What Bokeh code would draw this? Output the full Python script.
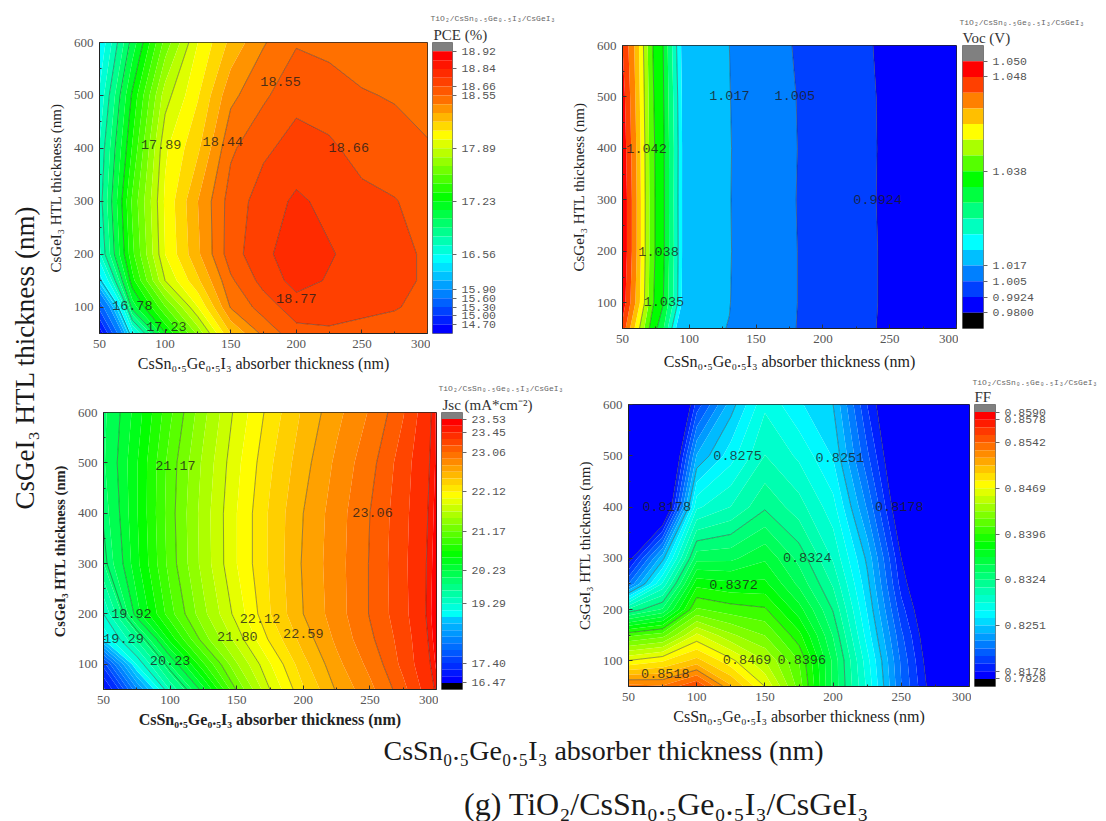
import numpy as np
from bokeh.embed import file_html
from bokeh.resources import INLINE
from bokeh.plotting import figure
from bokeh.layouts import row, column
from bokeh.models import FixedTicker, LinearAxis, Range1d, Title, ColumnDataSource, Spacer
from bokeh.core.properties import value

# ---------- shared text ----------
X_TITLE = "CsSn₀.₅Ge₀.₅I₃ absorber thickness (nm)"
Y_TITLE = "CsGeI₃ HTL thickness (nm)"
STACK = "TiO₂/CsSn₀.₅Ge₀.₅I₃/CsGeI₃"
CAPTION = "(g) TiO₂/CsSn₀.₅Ge₀.₅I₃/CsGeI₃"

x_ticks = [50, 100, 150, 200, 250, 300]
x_minor = [75, 125, 175, 225, 275]
y_ticks = [100, 200, 300, 400, 500, 600]
y_minor = [50, 150, 250, 350, 450, 550]

# ---------- PCE ----------
pce_x = [50, 75, 100, 125, 150, 175, 200, 225, 250, 275, 300]
pce_y = [50, 100, 150, 200, 300, 400, 500, 600]
pce_z = [
    [14.50, 16.50, 17.22, 17.70, 18.22, 18.47, 18.62, 18.64, 18.62, 18.60, 18.58],
    [15.40, 17.05, 17.55, 18.00, 18.45, 18.60, 18.72, 18.71, 18.69, 18.67, 18.62],
    [16.30, 17.30, 17.89, 18.20, 18.53, 18.70, 18.81, 18.76, 18.72, 18.70, 18.64],
    [16.65, 17.42, 18.00, 18.31, 18.61, 18.74, 18.84, 18.78, 18.73, 18.70, 18.64],
    [16.72, 17.47, 18.02, 18.33, 18.60, 18.71, 18.79, 18.74, 18.69, 18.665, 18.62],
    [16.68, 17.35, 17.98, 18.20, 18.53, 18.64, 18.70, 18.68, 18.62, 18.60, 18.56],
    [16.58, 17.25, 17.84, 18.10, 18.41, 18.53, 18.63, 18.60, 18.56, 18.54, 18.51],
    [16.45, 17.05, 17.60, 18.00, 18.25, 18.43, 18.54, 18.52, 18.49, 18.46, 18.45],
]
pce_scale_at = [0, 2, 3, 4, 5, 11, 17, 23, 27, 28, 29, 30, 31, 32]
pce_scale_val = [18.92, 18.84, 18.77, 18.66, 18.55, 17.89, 17.23, 16.56, 15.90, 15.60, 15.30, 15.00, 14.70, 14.40]
pce_tick_at = [0, 2, 4, 5, 11, 17, 23, 27, 28, 29, 30, 31]
pce_tick_text = ["18.92", "18.84", "18.66", "18.55", "17.89", "17.23", "16.56", "15.90", "15.60", "15.30", "15.00", "14.70"]
pce_lines = [16.34, 16.78, 17.00, 17.23, 17.89, 18.44, 18.55, 18.66, 18.77]
pce_notes = ["18.55", "17.89", "18.44", "18.66", "18.77", "16.78", "17.23"]
pce_note_x = [188, 97, 144, 240, 200, 75, 101]
pce_note_y = [527, 408, 413, 402, 116, 102, 64]
pce_colors = [(0.5, "#ff0000"), (3.5, "#ff4000"), (5.5, "#ff7000"), (9.6, "#ffff00"), (16.6, "#00ff00"), (23.6, "#00ffff"), (31.5, "#0000ff")]

# ---------- Voc ----------
voc_x = [50, 60, 70, 80, 90, 95, 130, 180, 240, 300]
voc_y = [50, 100, 200, 300, 400, 500, 600]
voc_z = [
    [1.0475, 1.0425, 1.0380, 1.0320, 1.0205, 1.0195, 1.0168, 1.0050, 0.9924, 0.982],
    [1.0490, 1.0445, 1.0395, 1.0350, 1.0255, 1.0198, 1.0172, 1.0052, 0.9926, 0.982],
    [1.0495, 1.0450, 1.0397, 1.0358, 1.0260, 1.0200, 1.0174, 1.0052, 0.9926, 0.982],
    [1.0495, 1.0450, 1.0397, 1.0358, 1.0258, 1.0200, 1.0173, 1.0050, 0.9924, 0.982],
    [1.0492, 1.0448, 1.0396, 1.0357, 1.0260, 1.0200, 1.0174, 1.0052, 0.9925, 0.982],
    [1.0488, 1.0445, 1.0394, 1.0353, 1.0255, 1.0198, 1.0172, 1.0050, 0.9924, 0.982],
    [1.0480, 1.0442, 1.0391, 1.0350, 1.0245, 1.0193, 1.0170, 1.0042, 0.9919, 0.982],
]
voc_scale_at = [0, 1, 7, 13, 14, 15, 16, 17]
voc_scale_val = [1.050, 1.048, 1.038, 1.017, 1.005, 0.9924, 0.9800, 0.9700]
voc_tick_at = [0, 1, 7, 13, 14, 15, 16]
voc_tick_text = ["1.050", "1.048", "1.038", "1.017", "1.005", "0.9924", "0.9800"]
voc_lines = [0.9924, 1.005, 1.017, 1.024, 1.0345, 1.038, 1.0413]
voc_notes = ["1.017", "1.005", "1.042", "1.038", "1.035", "0.9924"]
voc_note_x = [130, 179, 68, 77, 81, 241]
voc_note_y = [502, 502, 400, 200, 102, 301]
voc_colors = [(0.5, "#ff0000"), (4.5, "#ffff00"), (7.5, "#00ff00"), (11.5, "#00ffff"), (15.5, "#0000ff"), (16.5, "#000000")]

# ---------- Jsc ----------
jsc_x = [50, 75, 100, 125, 150, 175, 200, 225, 250, 275, 300]
jsc_y = [50, 100, 150, 200, 300, 400, 500, 600]
jsc_z = [
    [16.70, 18.20, 19.50, 20.33, 21.19, 21.80, 22.26, 22.61, 22.86, 23.15, 23.47],
    [17.50, 19.10, 20.05, 20.83, 21.47, 21.95, 22.38, 22.70, 22.95, 23.23, 23.50],
    [18.90, 19.70, 20.60, 21.25, 21.71, 22.15, 22.50, 22.78, 23.03, 23.25, 23.52],
    [19.29, 20.32, 20.95, 21.44, 21.86, 22.27, 22.59, 22.83, 23.07, 23.28, 23.53],
    [19.85, 20.50, 21.08, 21.55, 21.96, 22.30, 22.61, 22.84, 23.07, 23.29, 23.52],
    [19.95, 20.53, 21.10, 21.56, 21.96, 22.30, 22.59, 22.83, 23.06, 23.28, 23.51],
    [20.02, 20.53, 21.08, 21.52, 21.92, 22.25, 22.53, 22.78, 23.01, 23.26, 23.50],
    [20.00, 20.46, 20.98, 21.44, 21.85, 22.18, 22.46, 22.70, 22.92, 23.18, 23.50],
]
jsc_scale_at = [0, 2, 5, 11, 17, 23, 28, 37, 40, 41]
jsc_scale_val = [23.53, 23.45, 23.06, 22.12, 21.17, 20.23, 19.29, 17.40, 16.47, 16.00]
jsc_tick_at = [0, 2, 5, 11, 17, 23, 28, 37, 40]
jsc_tick_text = ["23.53", "23.45", "23.06", "22.12", "21.17", "20.23", "19.29", "17.40", "16.47"]
jsc_lines = [19.29, 19.92, 20.23, 21.17, 21.80, 22.12, 22.59, 23.06, 23.45]
jsc_notes = ["21.17", "23.06", "22.12", "21.80", "22.59", "19.92", "19.29", "20.23"]
jsc_note_x = [104, 252, 167.5, 150.5, 200, 71, 65, 100]
jsc_note_y = [494, 401, 191, 156, 162, 200, 152, 107]
jsc_colors = [(0.5, "#ff0000"), (11.6, "#ffff00"), (20.6, "#00ff00"), (29.8, "#00ffff"), (30.5, "#00c4ff"), (39.5, "#0000ff"), (40.5, "#000000")]

# ---------- FF ----------
ff_x = [50, 75, 100, 125, 150, 175, 200, 225, 250, 275, 300]
ff_y = [50, 100, 150, 200, 250, 300, 400, 500, 600]
ff_z = [
    [0.8535, 0.8532, 0.8555, 0.8508, 0.8469, 0.8415, 0.8345, 0.8285, 0.8215, 0.8165, 0.8125],
    [0.8470, 0.8480, 0.8498, 0.8473, 0.8445, 0.8408, 0.8345, 0.8280, 0.8212, 0.8160, 0.8125],
    [0.8405, 0.8415, 0.8460, 0.8435, 0.8420, 0.8388, 0.8335, 0.8270, 0.8205, 0.8155, 0.8120],
    [0.8315, 0.8338, 0.8410, 0.8402, 0.8398, 0.8365, 0.8323, 0.8262, 0.8195, 0.8150, 0.8120],
    [0.8215, 0.8290, 0.8380, 0.8375, 0.8375, 0.8345, 0.8310, 0.8255, 0.8185, 0.8145, 0.8120],
    [0.8170, 0.8247, 0.8344, 0.8345, 0.8358, 0.8332, 0.8298, 0.8248, 0.8178, 0.8140, 0.8115],
    [0.8130, 0.8140, 0.8285, 0.8300, 0.8322, 0.8305, 0.8280, 0.8225, 0.8160, 0.8135, 0.8115],
    [0.8100, 0.8115, 0.8240, 0.8270, 0.8300, 0.8285, 0.8262, 0.8205, 0.8150, 0.8130, 0.8110],
    [0.8090, 0.8100, 0.8195, 0.8245, 0.8285, 0.8265, 0.8251, 0.8190, 0.8145, 0.8125, 0.8110],
]
ff_scale_at = [0, 1, 4, 10, 16, 22, 28, 34, 35, 36]
ff_scale_val = [0.8590, 0.8578, 0.8542, 0.8469, 0.8396, 0.8324, 0.8251, 0.8178, 0.7920, 0.7800]
ff_tick_at = [0, 1, 4, 10, 16, 22, 28, 34, 35]
ff_tick_text = ["0.8590", "0.8578", "0.8542", "0.8469", "0.8396", "0.8324", "0.8251", "0.8178", "0.7920"]
ff_lines = [0.8178, 0.8251, 0.8324, 0.8396, 0.8469, 0.8518]
ff_notes = ["0.8275", "0.8251", "0.8178", "0.8178", "0.8324", "0.8372", "0.8469", "0.8396", "0.8518"]
ff_note_x = [130, 205, 78, 248.5, 181, 127, 137, 177, 77]
ff_note_y = [500, 497, 401, 401, 302, 248, 102, 102, 76]
ff_colors = [(0.5, "#ff0000"), (9.6, "#ffff00"), (17.3, "#00ff00"), (26.3, "#00ffff"), (34.5, "#0000ff"), (35.5, "#000000")]

SERIF = "Liberation Serif"
MONO = "Liberation Mono"


def to_rgb(h):
    return [int(h[i:i + 2], 16) for i in (1, 3, 5)]


def band_colors(stops, n):
    pos = [s[0] for s in stops]
    rgb = np.array([to_rgb(s[1]) for s in stops], dtype=float)
    out = []
    for i in range(n):
        c = [np.interp(i + 0.5, pos, rgb[:, k]) for k in range(3)]
        out.append("#%02x%02x%02x" % tuple(int(round(v)) for v in c))
    return out


def offset(fig, dy):
    return column(Spacer(height=dy, width=1), fig, spacing=0) if dy else fig


def panel(x, y, z, scale_at, scale_val, stops, lines, notes, nx, ny,
          left, top, fw, fh, right, bottom, bold=False, x_gap=4):
    n = scale_at[-1]
    edges = np.interp(np.arange(n + 1), scale_at, scale_val)
    cols = band_colors(stops, n)
    p = figure(frame_width=fw, frame_height=fh, min_border_left=left, min_border_top=top,
               min_border_right=right, min_border_bottom=bottom,
               x_range=Range1d(50, 300), y_range=Range1d(50, 600),
               toolbar_location=None, output_backend="svg", background_fill_color="white")
    p.grid.visible = False
    r = p.contour(x, y, np.array(z), levels=[float(v) for v in edges[::-1]], fill_color=cols[::-1], line_color=None)
    g = r.fill_renderer.glyph
    g.line_color = g.fill_color
    g.line_width = 0.5
    p.contour(x, y, np.array(z), levels=sorted(lines), line_color="#303030", line_width=0.8, line_alpha=0.6)
    p.text(nx, ny, text=notes, text_font=value(MONO), text_font_size="13.5px", text_color="#1c1c1c",
           text_alpha=0.8, text_align="center", text_baseline="middle")
    p.xaxis.ticker = FixedTicker(ticks=x_ticks, minor_ticks=x_minor)
    p.yaxis.ticker = FixedTicker(ticks=y_ticks, minor_ticks=y_minor)
    for ax in (p.xaxis[0], p.yaxis[0]):
        ax.major_tick_in = 4
        ax.major_tick_out = 0
        ax.minor_tick_in = 2
        ax.minor_tick_out = 0
        ax.major_tick_line_color = "#333333"
        ax.minor_tick_line_color = "#333333"
        ax.axis_line_color = "#222222"
        ax.major_label_text_font = SERIF
        ax.major_label_text_font_size = "13px"
        ax.major_label_text_color = "#555555"
        ax.axis_label_text_font = SERIF
        ax.axis_label_text_font_style = "bold" if bold else "normal"
        ax.axis_label_text_color = "#222222"
    p.xaxis.axis_label_text_font_size = "16px"
    p.yaxis.axis_label_text_font_size = "14.5px" if bold else "15px"
    p.xaxis.axis_label = X_TITLE
    p.yaxis.axis_label = Y_TITLE
    p.xaxis.major_label_standoff = 6
    p.yaxis.major_label_standoff = 6
    p.xaxis.axis_label_standoff = x_gap
    p.yaxis.axis_label_standoff = 7
    p.outline_line_color = "#222222"
    p.outline_line_width = 1
    return p


def scale(scale_at, stops, tick_at, tick_text, left, top, fw, fh, right, bottom,
          title, title_dx, stack_dx, title_gap, stack_gap):
    n = scale_at[-1]
    cols = ["#808080"] + band_colors(stops, n)
    band = np.arange(-1, n)
    src = ColumnDataSource(dict(t=band, b=band + 1, c=cols))
    p = figure(frame_width=fw, frame_height=fh, min_border_left=left, min_border_top=top,
               min_border_right=right, min_border_bottom=bottom,
               x_range=Range1d(0, 1), y_range=Range1d(n, -1),
               x_axis_type=None, y_axis_type=None,
               toolbar_location=None, output_backend="svg")
    p.grid.visible = False
    p.quad(left=0, right=1, top="t", bottom="b", fill_color="c", line_color=None, source=src)
    ax = LinearAxis(ticker=FixedTicker(ticks=tick_at),
                    major_label_overrides={int(a): t for a, t in zip(tick_at, tick_text)})
    ax.axis_line_color = None
    ax.major_tick_in = 0
    ax.major_tick_out = 4
    ax.minor_tick_out = 0
    ax.major_tick_line_color = "#666666"
    ax.major_label_text_font = MONO
    ax.major_label_text_font_size = "11.5px"
    ax.major_label_text_color = "#555555"
    ax.major_label_standoff = 5
    p.add_layout(ax, "right")
    p.outline_line_color = "#777777"
    p.add_layout(Title(text=title, text_font=SERIF, text_font_size="15px", text_color="#333333",
                       text_font_style="normal", align="left", offset=title_dx, standoff=title_gap), "above")
    p.add_layout(Title(text=STACK, text_font=MONO, text_font_size="8px", text_color="#666666",
                       text_font_style="normal", align="left", offset=stack_dx, standoff=stack_gap), "above")
    return p


p_pce = panel(pce_x, pce_y, pce_z, pce_scale_at, pce_scale_val, pce_colors, pce_lines,
              pce_notes, pce_note_x, pce_note_y, 55, 34, 328, 291, 3, 42)
b_pce = scale(pce_scale_at, pce_colors, pce_tick_at, pce_tick_text, 2, 34, 20, 291, 112, 42,
              "PCE  (%)", 1, -2, 0, 3)
p_voc = panel(voc_x, voc_y, voc_z, voc_scale_at, voc_scale_val, voc_colors, voc_lines,
              voc_notes, voc_note_x, voc_note_y, 58, 34, 334, 283, 2, 47, x_gap=7)
b_voc = scale(voc_scale_at, voc_colors, voc_tick_at, voc_tick_text, 4, 34, 21, 283, 115, 47,
              "Voc  (V)", 0, -3, 0, 1)
p_jsc = panel(jsc_x, jsc_y, jsc_z, jsc_scale_at, jsc_scale_val, jsc_colors, jsc_lines,
              jsc_notes, jsc_note_x, jsc_note_y, 59, 27, 333, 277, 2, 46, bold=True)
b_jsc = scale(jsc_scale_at, jsc_colors, jsc_tick_at, jsc_tick_text, 3, 27, 21, 277, 105, 46,
              "Jsc  (mA*cm⁻²)", 1, -3, 0, 3)
p_ff = panel(ff_x, ff_y, ff_z, ff_scale_at, ff_scale_val, ff_colors, ff_lines,
             ff_notes, ff_note_x, ff_note_y, 61, 27, 341, 282, 2, 48)
b_ff = scale(ff_scale_at, ff_colors, ff_tick_at, ff_tick_text, 3, 27, 21, 282, 103, 48,
             "FF", 0, -2, 0, 0)


def blank(w, h):
    p = figure(frame_width=w, frame_height=h, min_border=0, x_range=Range1d(0, w), y_range=Range1d(h, 0),
               x_axis_type=None, y_axis_type=None, toolbar_location=None, output_backend="svg")
    p.grid.visible = False
    p.outline_line_color = None
    return p


left_fig = blank(44, 735)
left_fig.text([24], [357], text=[Y_TITLE], angle=np.pi / 2, text_font=value(SERIF), text_font_size="27px",
              text_color="#1a1a1a", text_align="center", text_baseline="middle")

bottom_fig = blank(1098, 86)
bottom_fig.text([603], [15], text=[X_TITLE], text_font=value(SERIF), text_font_size="28px",
                text_color="#1a1a1a", text_align="center", text_baseline="middle")
bottom_fig.text([666], [68], text=[CAPTION], text_font=value(SERIF), text_font_size="32px",
                text_color="#1a1a1a", text_align="center", text_baseline="middle")

top_row = row(p_pce, b_pce, offset(p_voc, 3), offset(b_voc, 3), spacing=0)
low_row = row(offset(p_jsc, 10), offset(b_jsc, 5), p_ff, b_ff, spacing=0)
grid = column(Spacer(height=8, width=1), top_row, low_row, spacing=0)
page = column(row(left_fig, grid, spacing=0), bottom_fig, spacing=0)

open("out.html", "w").write(file_html(page, INLINE))
